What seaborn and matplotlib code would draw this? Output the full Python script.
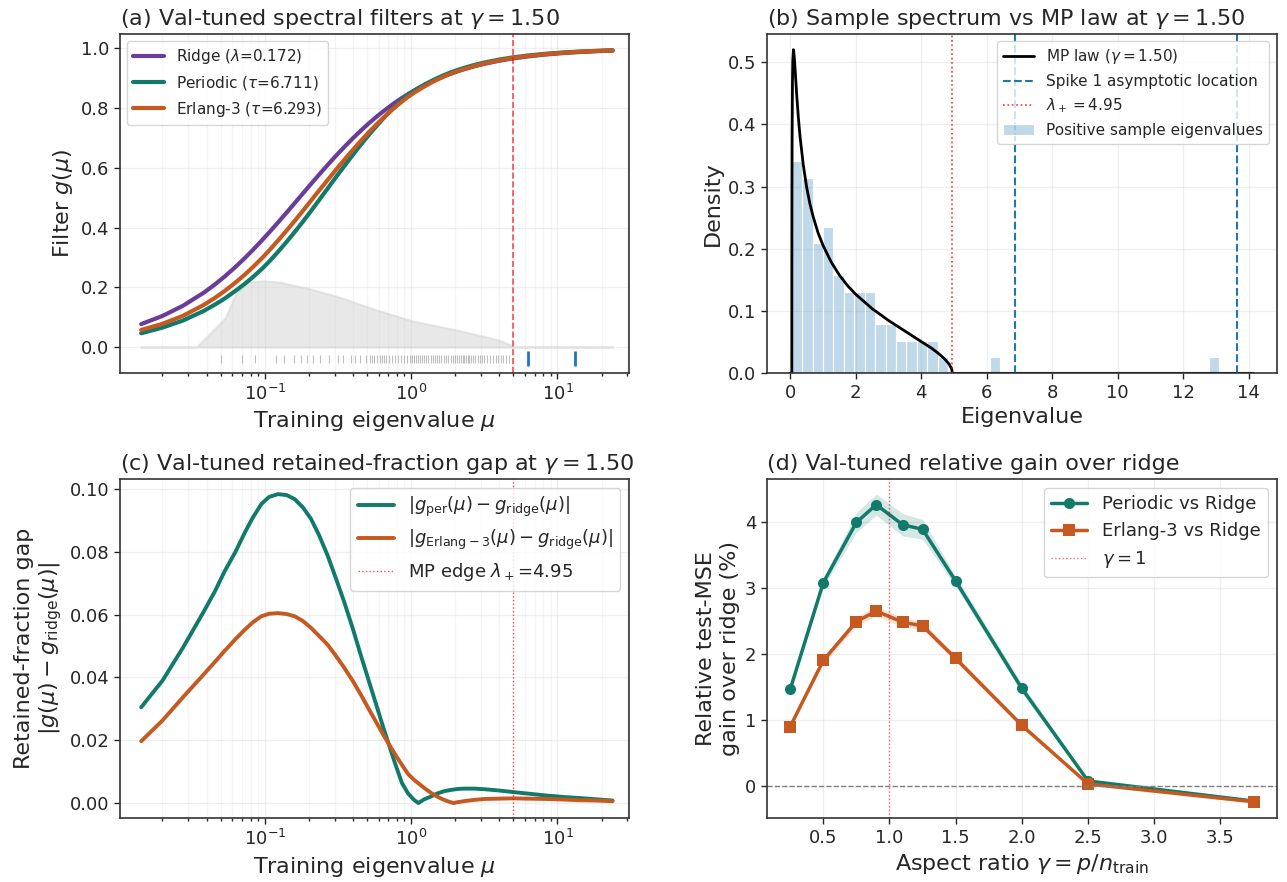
import numpy as np
import pandas as pd
import matplotlib
matplotlib.use("Agg")
import matplotlib.pyplot as plt
import seaborn as sb

# ---- panel (a) / (c): val-tuned filters on the training-eigenvalue grid
mu = [0.0143, 0.02, 0.0276, 0.0383, 0.0457, 0.053, 0.063, 0.0733, 0.083, 0.095,
      0.107, 0.123, 0.141, 0.16, 0.182, 0.207, 0.234, 0.268, 0.305, 0.348,
      0.398, 0.451, 0.513, 0.585, 0.646, 0.713, 0.785, 0.867, 0.955, 1.047,
      1.12, 1.23, 1.37, 1.50, 1.66, 1.82, 1.95, 2.09, 2.3, 2.69,
      3.18, 3.98, 4.97, 6.3, 8.4, 11.2, 14.2, 18.2, 23.8]
g_ridge = [0.0768, 0.1042, 0.1383, 0.1821, 0.2099, 0.2356, 0.2681, 0.2988, 0.3255, 0.3558,
           0.3835, 0.4169, 0.4505, 0.4819, 0.5141, 0.5462, 0.5764, 0.6091, 0.6394, 0.6692,
           0.6982, 0.7239, 0.7489, 0.7728, 0.7897, 0.8056, 0.8203, 0.8345, 0.8474, 0.8589,
           0.8669, 0.8773, 0.8885, 0.8971, 0.9061, 0.9137, 0.9189, 0.9240, 0.9304, 0.9399,
           0.9487, 0.9586, 0.9666, 0.9734, 0.9799, 0.9849, 0.9880, 0.9906, 0.9928]
g_periodic = [0.0463, 0.0652, 0.0888, 0.1211, 0.1424, 0.1619, 0.1881, 0.2125, 0.2345, 0.2605,
              0.2860, 0.3185, 0.3524, 0.3851, 0.4199, 0.4557, 0.4909, 0.5301, 0.5676, 0.6050,
              0.6424, 0.6765, 0.7099, 0.7423, 0.7657, 0.7877, 0.8083, 0.8282, 0.8444, 0.8579,
              0.8669, 0.8785, 0.8906, 0.9001, 0.9098, 0.9178, 0.9232, 0.9285, 0.9350, 0.9445,
              0.9531, 0.9626, 0.9701, 0.9764, 0.9823, 0.9868, 0.9896, 0.9918, 0.9936]
g_erlang = [0.0571, 0.0779, 0.1046, 0.1411, 0.1649, 0.1872, 0.2159, 0.2435, 0.2679, 0.2963,
            0.3232, 0.3564, 0.3903, 0.4224, 0.4561, 0.4904, 0.5231, 0.5586, 0.5924, 0.6260,
            0.6592, 0.6892, 0.7189, 0.7475, 0.7680, 0.7872, 0.8051, 0.8224, 0.8382, 0.8515,
            0.8606, 0.8725, 0.8853, 0.8950, 0.9050, 0.9133, 0.9189, 0.9243, 0.9310, 0.9409,
            0.9500, 0.9600, 0.9681, 0.9748, 0.9812, 0.9860, 0.9889, 0.9914, 0.9934]
gap_periodic = [0.0305, 0.0390, 0.0495, 0.0610, 0.0675, 0.0737, 0.0800, 0.0863, 0.0910, 0.0953,
                0.0975, 0.0984, 0.0981, 0.0968, 0.0942, 0.0905, 0.0855, 0.0790, 0.0718, 0.0642,
                0.0558, 0.0474, 0.0390, 0.0305, 0.0240, 0.0179, 0.0120, 0.0063, 0.0030, 0.0010,
                0.0000, 0.0012, 0.0021, 0.0030, 0.0037, 0.0041, 0.0043, 0.0045, 0.0046, 0.0046,
                0.0044, 0.0040, 0.0035, 0.0030, 0.0024, 0.0019, 0.0016, 0.0012, 0.0008]
gap_erlang = [0.0197, 0.0263, 0.0337, 0.0410, 0.0450, 0.0484, 0.0522, 0.0553, 0.0576, 0.0595,
              0.0603, 0.0605, 0.0602, 0.0595, 0.0580, 0.0558, 0.0533, 0.0505, 0.0470, 0.0432,
              0.0390, 0.0347, 0.0300, 0.0253, 0.0217, 0.0184, 0.0152, 0.0121, 0.0092, 0.0074,
              0.0063, 0.0048, 0.0032, 0.0021, 0.0011, 0.0004, 0.0000, 0.0003, 0.0006, 0.0010,
              0.0013, 0.0014, 0.0015, 0.0014, 0.0013, 0.0011, 0.0009, 0.0008, 0.0006]
lam_ridge, tau_per, tau_erl = 0.172, 6.711, 6.293

# grey spectral-density silhouette in panel (a)
dens_mu = [0.0143, 0.0341, 0.0535, 0.0628, 0.0755, 0.0985, 0.128, 0.196, 0.316,
           0.536, 1.01, 2.01, 3.41, 4.22, 4.90, 4.95, 23.8]
dens_h = [0.0, 0.0, 0.097, 0.174, 0.217, 0.222, 0.217, 0.197, 0.169,
          0.130, 0.088, 0.058, 0.032, 0.019, 0.004, 0.0, 0.0]

# ---- sample eigenvalues (bulk + spikes)
bulk_eigs = [0.050, 0.070, 0.086, 0.119, 0.135, 0.158, 0.176, 0.193, 0.214, 0.239, 0.273, 0.315, 0.345,
             0.389, 0.414, 0.444, 0.49, 0.52, 0.54, 0.56, 0.585, 0.61, 0.63, 0.65, 0.675,
             0.71, 0.74, 0.77, 0.81, 0.85, 0.89, 0.93, 0.98,
             1.02, 1.05, 1.08, 1.12, 1.15, 1.19, 1.23, 1.27, 1.30,
             1.36, 1.41, 1.46, 1.51, 1.56, 1.61,
             1.68, 1.74, 1.80, 1.86, 1.92,
             2.00, 2.07, 2.13, 2.19, 2.25,
             2.31, 2.38, 2.44, 2.50, 2.56,
             2.65, 2.75, 2.86, 2.97, 3.07, 3.17,
             3.30, 3.45, 3.62, 3.78, 3.95, 4.10, 4.27, 4.42, 4.68]
spike_eigs = [6.25, 13.09]
spike_asym = [6.86, 13.65]
lam_plus = 4.95
n_features = 120

# MP law, gamma = 1.5
mp_x = [0.0, 0.0505, 0.052, 0.055, 0.06, 0.07, 0.08, 0.1, 0.12, 0.15, 0.2, 0.25, 0.3, 0.4,
        0.5, 0.6, 0.7, 0.85, 1.0, 1.25, 1.5, 1.75, 2.0, 2.5, 3.0, 3.5, 4.0, 4.3, 4.5,
        4.7, 4.85, 4.93, 4.95, 14.14]
mp_y = [0.0, 0.0, 0.175, 0.286, 0.381, 0.468, 0.503, 0.520, 0.512, 0.489, 0.447, 0.411, 0.381, 0.335,
        0.300, 0.273, 0.252, 0.226, 0.206, 0.179, 0.158, 0.141, 0.127, 0.104, 0.085, 0.068, 0.051, 0.041, 0.033,
        0.024, 0.015, 0.007, 0.0, 0.0]

# ---- panel (d): relative gain vs aspect ratio
gammas = [0.25, 0.5, 0.75, 0.9, 1.1, 1.25, 1.5, 2.0, 2.5, 3.75]
gain_periodic = [1.46, 3.08, 3.995, 4.265, 3.96, 3.89, 3.105, 1.475, 0.07, -0.235]
se_periodic = [0.03, 0.07, 0.15, 0.16, 0.17, 0.15, 0.08, 0.07, 0.03, 0.03]
gain_erlang = [0.895, 1.90, 2.49, 2.65, 2.48, 2.425, 1.93, 0.915, 0.025, -0.245]
se_erlang = [0.02, 0.05, 0.07, 0.07, 0.07, 0.06, 0.05, 0.04, 0.02, 0.02]

c_ridge = "#6a3d9a"
c_per = "#127a6b"
c_erl = "#c5591f"
c_spike = "#1f77b4"

sb.set_theme(style="ticks")
plt.rcParams["font.family"] = ["DejaVu Sans"]
plt.rcParams["axes.edgecolor"] = "#333333"
plt.rcParams["axes.linewidth"] = 1.2

fig, axs = plt.subplots(2, 2, figsize=(12.87, 8.82), dpi=100)
fig.subplots_adjust(left=0.093, right=0.992, top=0.962, bottom=0.072, wspace=0.27, hspace=0.31)
TS, LS, KS = 16, 16, 13

# (a)
ax = axs[0, 0]
ax.fill_between(dens_mu, 0, dens_h, color="lightgray", alpha=0.5, lw=1.5)
df_a = pd.DataFrame({"mu": mu, "Ridge": g_ridge, "Periodic": g_periodic, "Erlang": g_erlang})
sb.lineplot(data=df_a, x="mu", y="Ridge", color=c_ridge, lw=3, ax=ax,
            label=rf"Ridge ($\lambda$={lam_ridge:.3f})")
sb.lineplot(data=df_a, x="mu", y="Periodic", color=c_per, lw=3, ax=ax,
            label=rf"Periodic ($\tau$={tau_per:.3f})")
sb.lineplot(data=df_a, x="mu", y="Erlang", color=c_erl, lw=3, ax=ax,
            label=rf"Erlang-3 ($\tau$={tau_erl:.3f})")
ax.vlines(bulk_eigs, -0.053, -0.026, color="grey", alpha=0.5, lw=0.8)
ax.vlines(spike_eigs, -0.064, -0.014, color=c_spike, lw=2)
ax.axvline(lam_plus, color="red", ls="--", lw=1.2, alpha=0.7)
ax.set_xscale("log")
ax.set_xlim(0.0102, 31)
ax.set_ylim(-0.088, 1.05)
ax.grid(True, which="major", alpha=0.3)
ax.grid(True, which="minor", axis="x", alpha=0.2)
ax.set_title(r"(a) Val-tuned spectral filters at $\gamma = 1.50$", fontsize=TS, loc="left")
ax.set_xlabel(r"Training eigenvalue $\mu$", fontsize=LS)
ax.set_ylabel(r"Filter $g(\mu)$", fontsize=LS)
ax.legend(loc="upper left", fontsize=11)

# (b)
ax = axs[0, 1]
all_eigs = bulk_eigs + spike_eigs
bw = (max(all_eigs) - min(all_eigs)) / 41
sb.histplot(x=all_eigs, bins=41, weights=[1 / (n_features * bw)] * len(all_eigs),
            color=c_spike, alpha=0.28, edgecolor="white", lw=1, ax=ax,
            label="Positive sample eigenvalues")
ax.plot(mp_x, mp_y, color="black", lw=2, label=r"MP law ($\gamma = 1.50$)")
for i, s in enumerate(spike_asym):
    ax.axvline(s, color=c_spike, ls="--", lw=1.5,
               label="Spike 1 asymptotic location" if i == 0 else None)
ax.axvline(lam_plus, color="red", ls=":", lw=1.2, alpha=0.8, label=r"$\lambda_+ = 4.95$")
ax.set_xlim(-0.707, 14.85)
ax.set_ylim(0, 0.546)
ax.grid(True, alpha=0.3)
ax.set_title(r"(b) Sample spectrum vs MP law at $\gamma = 1.50$", fontsize=TS, loc="left")
ax.set_xlabel("Eigenvalue", fontsize=LS)
ax.set_ylabel("Density", fontsize=LS)
h, l = ax.get_legend_handles_labels()
order = [l.index(r"MP law ($\gamma = 1.50$)"), l.index("Spike 1 asymptotic location"),
         l.index(r"$\lambda_+ = 4.95$"), l.index("Positive sample eigenvalues")]
ax.legend([h[i] for i in order], [l[i] for i in order], loc="upper right", fontsize=11)

# (c)
ax = axs[1, 0]
df_c = pd.DataFrame({"mu": mu, "per": gap_periodic, "erl": gap_erlang})
sb.lineplot(data=df_c, x="mu", y="per", color=c_per, lw=2.8, ax=ax,
            label=r"$|g_{\rm per}(\mu) - g_{\rm ridge}(\mu)|$")
sb.lineplot(data=df_c, x="mu", y="erl", color=c_erl, lw=2.8, ax=ax,
            label=r"$|g_{\rm Erlang-3}(\mu) - g_{\rm ridge}(\mu)|$")
ax.axvline(lam_plus, color="red", ls=":", lw=1, alpha=0.7, label=r"MP edge $\lambda_+$=4.95")
ax.set_xscale("log")
ax.set_xlim(0.0102, 31)
ax.grid(True, which="major", alpha=0.3)
ax.grid(True, which="minor", axis="x", alpha=0.2)
ax.set_title(r"(c) Val-tuned retained-fraction gap at $\gamma = 1.50$", fontsize=TS, loc="left")
ax.set_xlabel(r"Training eigenvalue $\mu$", fontsize=LS)
ax.set_ylabel("Retained-fraction gap\n" + r"$|g(\mu) - g_{\rm ridge}(\mu)|$", fontsize=LS)
ax.legend(loc="upper right", fontsize=13)

# (d)
ax = axs[1, 1]
gp, ge = np.array(gain_periodic), np.array(gain_erlang)
ax.fill_between(gammas, gp - np.array(se_periodic), gp + np.array(se_periodic), color=c_per, alpha=0.18, lw=0)
ax.fill_between(gammas, ge - np.array(se_erlang), ge + np.array(se_erlang), color=c_erl, alpha=0.18, lw=0)
sb.lineplot(x=gammas, y=gain_periodic, color=c_per, lw=2.5, marker="o", markersize=8,
            markeredgewidth=0, ax=ax, label="Periodic vs Ridge")
sb.lineplot(x=gammas, y=gain_erlang, color=c_erl, lw=2.5, marker="s", markersize=8,
            markeredgewidth=0, ax=ax, label="Erlang-3 vs Ridge")
ax.axhline(0, color="grey", ls="--", lw=1)
ax.axvline(1.0, color="red", ls=":", lw=1, alpha=0.6, label=r"$\gamma = 1$")
ax.grid(True, alpha=0.3)
ax.set_xticks([0.5, 1.0, 1.5, 2.0, 2.5, 3.0, 3.5])
ax.set_title("(d) Val-tuned relative gain over ridge", fontsize=TS, loc="left")
ax.set_xlabel(r"Aspect ratio $\gamma = p/n_{\rm train}$", fontsize=LS)
ax.set_ylabel("Relative test-MSE\ngain over ridge (%)", fontsize=LS)
ax.legend(loc="upper right", fontsize=13)

for ax in axs.flat:
    ax.tick_params(labelsize=KS, length=4, width=1)
    ax.tick_params(which="minor", length=2.5)

fig.savefig("out.png", dpi=100)
